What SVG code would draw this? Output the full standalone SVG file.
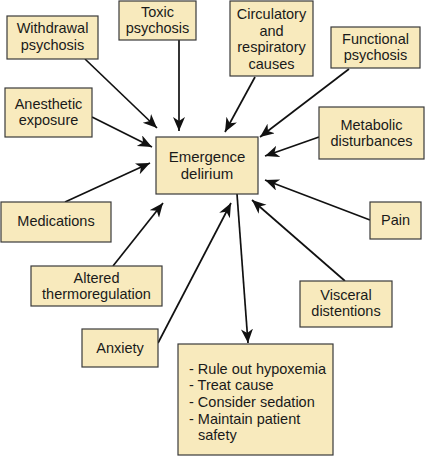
<svg xmlns="http://www.w3.org/2000/svg" width="425" height="456" viewBox="0 0 425 456">
<style>
.box{fill:#f8eabd;stroke:#3a3a3a;stroke-width:1.2}
text{font-family:"Liberation Sans",Arial,sans-serif;font-size:14.5px;fill:#1a1a1a}
.c{text-anchor:middle}
.big{font-size:15px}
.ln{stroke:#111;stroke-width:1.7;fill:none;marker-end:url(#ah)}
</style>
<defs>
<marker id="ah" markerUnits="userSpaceOnUse" markerWidth="16" markerHeight="14" refX="14" refY="6" orient="auto">
<path d="M0,0 L14,6 L0,12 L4,6 z" fill="#111"/>
</marker>
</defs>
<rect width="425" height="456" fill="#fff"/>
<g id="connectors">
<line class="ln" x1="85" y1="59" x2="157" y2="128"/>
<line class="ln" x1="179" y1="40" x2="179" y2="131"/>
<line class="ln" x1="92" y1="117" x2="152" y2="147"/>
<line class="ln" x1="255" y1="77" x2="225" y2="132"/>
<line class="ln" x1="349" y1="69" x2="260" y2="137"/>
<line class="ln" x1="319" y1="137" x2="265" y2="156"/>
<line class="ln" x1="65" y1="202" x2="150" y2="163"/>
<line class="ln" x1="113" y1="266" x2="163" y2="203"/>
<line class="ln" x1="158" y1="343" x2="231" y2="203"/>
<line class="ln" x1="370" y1="220" x2="265" y2="180"/>
<line class="ln" x1="345" y1="281" x2="252" y2="200"/>
<line class="ln" x1="237" y1="194" x2="248" y2="343"/>
</g>
<g id="withdrawal"><rect class="box" x="7" y="16" width="91" height="43"/><text class="c" x="52.5" y="33">Withdrawal</text><text class="c" x="52.5" y="50">psychosis</text></g>
<g id="toxic"><rect class="box" x="119" y="1" width="77" height="39"/><text class="c" x="157.5" y="17">Toxic</text><text class="c" x="157.5" y="33">psychosis</text></g>
<g id="circulatory"><rect class="box" x="230" y="1" width="83" height="75"/><text class="c" x="271.5" y="19">Circulatory</text><text class="c" x="271.5" y="35.5">and</text><text class="c" x="271.5" y="52">respiratory</text><text class="c" x="271.5" y="68.5">causes</text></g>
<g id="functional"><rect class="box" x="331" y="27" width="89" height="41"/><text class="c" x="375.5" y="44">Functional</text><text class="c" x="375.5" y="60">psychosis</text></g>
<g id="anesthetic"><rect class="box" x="5" y="88" width="87" height="49"/><text class="c" x="48.5" y="109">Anesthetic</text><text class="c" x="48.5" y="125">exposure</text></g>
<g id="metabolic"><rect class="box" x="319" y="107" width="105" height="52"/><text class="c" x="371.5" y="130">Metabolic</text><text class="c" x="371.5" y="146">disturbances</text></g>
<g id="emergence"><rect class="box" x="156" y="137" width="102" height="57"/><text class="c big" x="207" y="162">Emergence</text><text class="c big" x="207" y="179">delirium</text></g>
<g id="medications"><rect class="box" x="1" y="202" width="110" height="40"/><text class="c" x="56" y="226">Medications</text></g>
<g id="pain"><rect class="box" x="370" y="202" width="51" height="37"/><text class="c" x="395.5" y="225">Pain</text></g>
<g id="altered"><rect class="box" x="31" y="266" width="131" height="40"/><text class="c" x="96.5" y="283">Altered</text><text class="c" x="96.5" y="299">thermoregulation</text></g>
<g id="visceral"><rect class="box" x="300" y="281" width="92" height="46"/><text class="c" x="346" y="300">Visceral</text><text class="c" x="346" y="316">distentions</text></g>
<g id="anxiety"><rect class="box" x="82" y="329" width="76" height="38"/><text class="c" x="120" y="353">Anxiety</text></g>
<g id="actions"><rect class="box" x="178" y="344" width="155" height="111"/>
<text x="189" y="374">- Rule out hypoxemia</text>
<text x="189" y="390">- Treat cause</text>
<text x="189" y="407">- Consider sedation</text>
<text x="189" y="424">- Maintain patient</text>
<text x="198" y="440">safety</text></g>
</svg>
